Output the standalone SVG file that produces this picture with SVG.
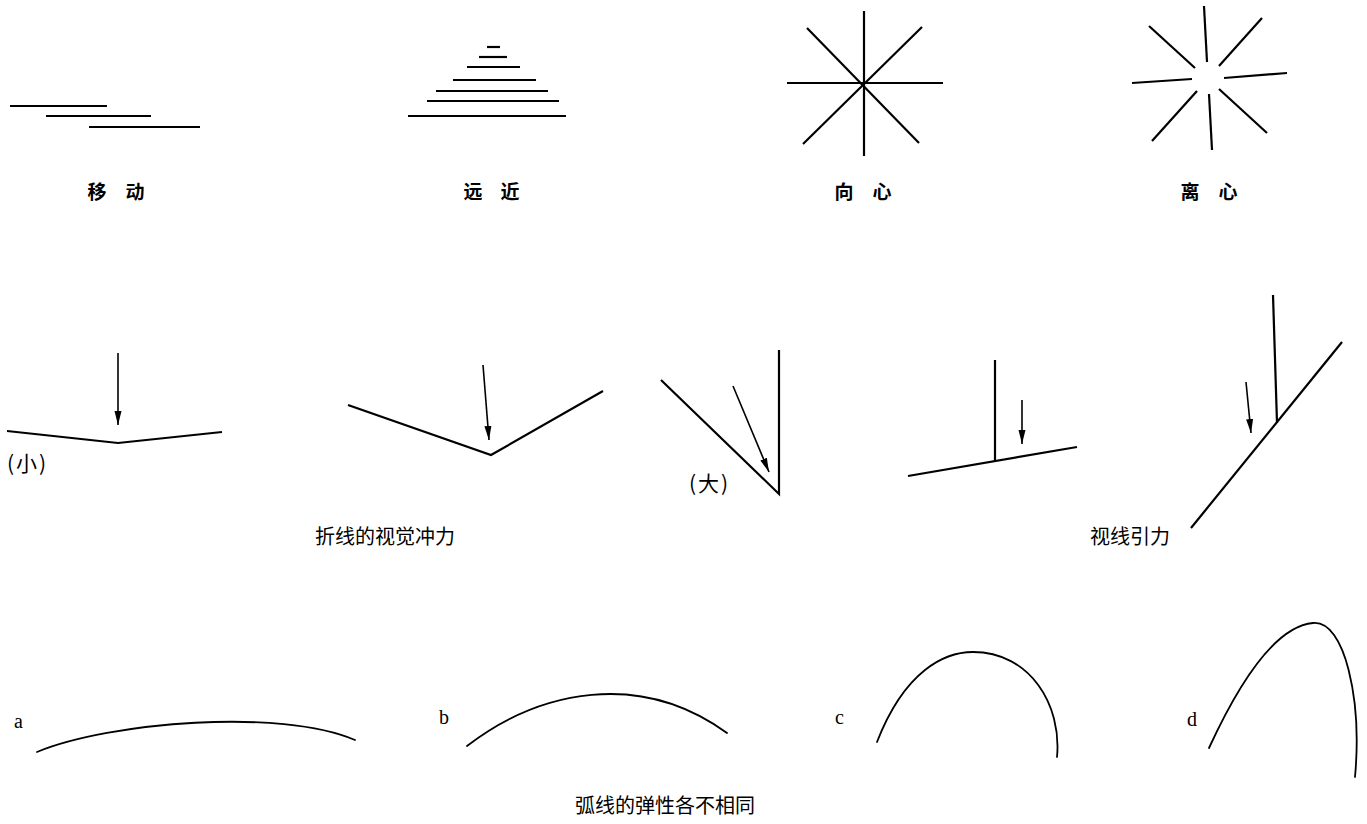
<svg xmlns="http://www.w3.org/2000/svg" width="1367" height="824" viewBox="0 0 1367 824">
<defs>
<style>
.ln{stroke:#000;stroke-width:2.2;fill:none;stroke-linecap:butt;stroke-linejoin:miter}
.cv{stroke:#000;stroke-width:1.8;fill:none;stroke-linecap:round}
.ar{stroke:#000;stroke-width:1.6;fill:none}
.t{font-family:"Noto Sans CJK SC","Noto Sans",sans-serif;font-size:20px;fill:#000}
.tp{font-family:"Noto Sans CJK SC","Noto Sans",sans-serif;font-size:21px;letter-spacing:2px;fill:#000}
.tb{font-family:"Noto Sans CJK SC","Noto Sans",sans-serif;font-size:19px;font-weight:bold;fill:#000;text-anchor:middle}
.lt{font-family:"Liberation Serif",serif;font-size:20px;fill:#000}
</style>
<marker id="ah" viewBox="0 0 14 8" refX="14" refY="4" markerWidth="14" markerHeight="8" markerUnits="userSpaceOnUse" orient="auto">
<path d="M0,0.5 L14,4 L0,7.5 Z" fill="#000"/>
</marker>
</defs>
<rect width="1367" height="824" fill="#fff"/>

<g id="move">
<line class="ln" x1="10" y1="106" x2="107" y2="106"/>
<line class="ln" x1="46" y1="116" x2="151" y2="116"/>
<line class="ln" x1="89" y1="127" x2="200" y2="127"/>
<text class="tb" x="97" y="199">移</text>
<text class="tb" x="135" y="199">动</text>
</g>

<g id="perspective">
<line class="ln" x1="487" y1="47" x2="500" y2="47"/>
<line class="ln" x1="479" y1="57" x2="507" y2="57"/>
<line class="ln" x1="467" y1="67" x2="520" y2="67"/>
<line class="ln" x1="453" y1="80" x2="536" y2="80"/>
<line class="ln" x1="436" y1="91" x2="548" y2="91"/>
<line class="ln" x1="427" y1="101" x2="559" y2="101"/>
<line class="ln" x1="408" y1="116" x2="566" y2="116"/>
<text class="tb" x="473" y="199">远</text>
<text class="tb" x="510" y="199">近</text>
</g>

<g id="centripetal">
<line class="ln" x1="864" y1="11" x2="864" y2="156"/>
<line class="ln" x1="787" y1="83" x2="943" y2="83"/>
<line class="ln" x1="807" y1="28" x2="919" y2="143"/>
<line class="ln" x1="922" y1="27" x2="803" y2="144"/>
<text class="tb" x="844" y="199">向</text>
<text class="tb" x="882" y="199">心</text>
</g>

<g id="centrifugal">
<line class="ln" x1="1204" y1="6" x2="1207" y2="62"/>
<line class="ln" x1="1149" y1="26" x2="1195" y2="68"/>
<line class="ln" x1="1262" y1="18" x2="1219" y2="66"/>
<line class="ln" x1="1224" y1="78" x2="1287" y2="73"/>
<line class="ln" x1="1132" y1="83" x2="1192" y2="79"/>
<line class="ln" x1="1197" y1="91" x2="1152" y2="141"/>
<line class="ln" x1="1209" y1="94" x2="1212" y2="150"/>
<line class="ln" x1="1219" y1="89" x2="1267" y2="133"/>
<text class="tb" x="1190" y="199">离</text>
<text class="tb" x="1228" y="199">心</text>
</g>

<g id="fold-small">
<polyline class="ln" points="7,431 118,443 222,432"/>
<text class="tp" x="7" y="471">(小)</text>
</g>

<g id="fold-mid">
<polyline class="ln" points="348,405 491,455 603,391"/>
</g>

<g id="fold-large">
<polyline class="ln" points="661,380 779,494 779,350"/>
<text class="tp" x="689" y="491">(大)</text>
</g>

<g id="sight-1">
<line class="ln" x1="908" y1="476" x2="1077" y2="447"/>
<line class="ln" x1="995" y1="360" x2="995" y2="461"/>
</g>

<g id="sight-2">
<line class="ln" x1="1191" y1="528" x2="1342" y2="342"/>
<line class="ln" x1="1273" y1="295" x2="1277" y2="423"/>
</g>

<g id="connectors">
<line class="ar" x1="118" y1="353" x2="118" y2="425" marker-end="url(#ah)"/>
<line class="ar" x1="483" y1="365" x2="489" y2="440" marker-end="url(#ah)"/>
<line class="ar" x1="733" y1="386" x2="769" y2="472" marker-end="url(#ah)"/>
<line class="ar" x1="1022" y1="400" x2="1022" y2="444" marker-end="url(#ah)"/>
<line class="ar" x1="1246" y1="382" x2="1251" y2="433" marker-end="url(#ah)"/>
</g>

<g id="labels-mid">
<text class="t" x="385" y="544" text-anchor="middle">折线的视觉冲力</text>
<text class="t" x="1130" y="544" text-anchor="middle">视线引力</text>
</g>

<g id="arc-a">
<text class="lt" x="14" y="728">a</text>
<path class="cv" d="M37,752 C110,722 280,708 355,740"/>
</g>
<g id="arc-b">
<text class="lt" x="439" y="724">b</text>
<path class="cv" d="M467,746 C540,690 640,670 727,733"/>
</g>
<g id="arc-c">
<text class="lt" x="835" y="724">c</text>
<path class="cv" d="M877,742 C905,670 945,652 973,652 C1030,652 1062,705 1057,757"/>
</g>
<g id="arc-d">
<text class="lt" x="1187" y="726">d</text>
<path class="cv" d="M1209,748 C1245,670 1280,626 1313,623 C1345,620 1362,700 1355,777"/>
</g>

<text class="t" x="665" y="813" text-anchor="middle">弧线的弹性各不相同</text>
</svg>
